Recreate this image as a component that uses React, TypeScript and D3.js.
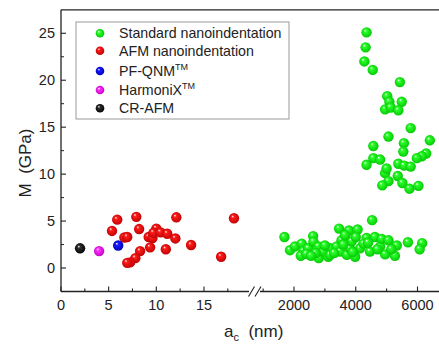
import React, { useEffect, useRef } from 'react';
import * as d3 from 'd3';

// a_c (nm) vs M (GPa)
const standardPts: [number, number][] = [
  [1690, 3.3], [1870, 1.9], [2030, 2.3], [2250, 2.6], [2300, 1.8], [2460, 2.1], [2220, 1.3],
  [2620, 3.4], [2630, 2.8], [2790, 2.3], [2800, 1.05], [2950, 1.75], [3170, 2.1], [3110, 1.2],
  [3170, 1.4], [3380, 2.3], [3460, 4.2], [3490, 1.75], [3540, 2.95], [3710, 1.4], [3780, 4.0],
  [3810, 2.1], [3870, 2.85], [3980, 1.2], [4060, 4.1], [4140, 2.1], [4350, 3.2], [4460, 1.75],
  [4530, 5.1], [4620, 3.3], [4790, 2.3], [4840, 3.1], [4950, 1.45], [5060, 2.95], [5270, 1.3],
  [5330, 2.4], [5690, 2.75], [6150, 2.65], [6070, 2.0], [2400, 1.5], [2700, 1.6], [3000, 2.4],
  [3300, 1.6], [3600, 2.5], [4250, 2.6], [4000, 3.3], [3650, 3.5], [4700, 2.0], [5150, 2.0],
  [4400, 2.7], [3900, 1.7], [2550, 1.3],
  [4350, 25.1], [4320, 23.5], [4280, 22.0], [4550, 21.1], [5430, 19.8], [5020, 18.3], [5090, 17.7],
  [5490, 17.7], [4950, 16.9], [5130, 17.1], [5380, 16.8], [5780, 14.9], [5060, 14.0], [6400, 13.6],
  [5560, 13.3], [4570, 13.0], [5540, 12.4], [6280, 12.2], [6140, 11.9], [5980, 11.7], [4570, 11.7],
  [4790, 11.55], [4350, 11.0], [5380, 11.1], [5570, 10.9], [5780, 10.8], [4950, 10.1], [5000, 10.6],
  [5360, 9.8], [5060, 9.25], [4860, 8.8], [5510, 9.05], [5740, 8.45], [6030, 8.75],
];
const afmPts: [number, number][] = [
  [5.9, 5.15], [7.9, 5.45], [12.1, 5.4], [18.15, 5.3], [5.35, 3.95], [8.2, 4.15], [6.65, 3.25],
  [6.95, 3.3], [9.2, 3.3], [9.6, 3.2], [10.0, 4.2], [9.7, 3.75], [10.45, 3.8], [11.15, 3.65],
  [12.0, 3.15], [13.65, 2.45], [9.35, 2.2], [11.0, 2.0], [8.3, 1.8], [7.8, 1.05], [7.25, 0.6],
  [6.95, 0.55], [16.8, 1.2],
];
const pfqnmPts: [number, number][] = [[6.0, 2.4]];
const harmonixPts: [number, number][] = [[4.0, 1.8]];
const crafmPts: [number, number][] = [[2.0, 2.1]];

const yTicks = [0, 5, 10, 15, 20, 25];
const yMinor = [2.5, 7.5, 12.5, 17.5, 22.5];
const xLeftTicks = [0, 5, 10, 15];
const xLeftMinor = [2.5, 7.5, 12.5, 17.5];
const xRightTicks = [2000, 4000, 6000];
const xRightMinor = [1000, 3000, 5000];

const legendItems = [
  { name: 'Standard nanoindentation', tm: false, id: 'g' },
  { name: 'AFM nanoindentation', tm: false, id: 'r' },
  { name: 'PF-QNM', tm: true, id: 'b' },
  { name: 'HarmoniX', tm: true, id: 'm' },
  { name: 'CR-AFM', tm: false, id: 'k' },
];

const colors: Record<string, [string, string]> = {
  g: ['#2cff2c', '#00c400'],
  r: ['#ff1c1c', '#bb0000'],
  b: ['#1c1cff', '#0000b0'],
  m: ['#ff30ff', '#c000c0'],
  k: ['#303030', '#000000'],
};

const W = 439;
const H = 344;
const FONT = "'Liberation Sans', Arial, sans-serif";

export default function App() {
  const ref = useRef<SVGSVGElement>(null);

  useEffect(() => {
    const svg = d3.select(ref.current);
    svg.selectAll('*').remove();

    const xL = d3.scaleLinear().domain([0, 19.6]).range([61, 247.8]);
    const xR = d3.scaleLinear().domain([2000, 6000]).range([294, 417.5]);
    const y = d3.scaleLinear().domain([-2.5, 27.5]).range([291.5, 9.8]);
    const left = 61, top = y(27.5), bottom = y(-2.5);

    // sphere-like gradients
    const defs = svg.append('defs');
    Object.entries(colors).forEach(([k, [c, d]]) => {
      const gr = defs.append('radialGradient').attr('id', 'sp-' + k)
        .attr('cx', '50%').attr('cy', '50%').attr('r', '55%')
        .attr('fx', '35%').attr('fy', '30%');
      gr.append('stop').attr('offset', '0%').attr('stop-color', '#ffffff');
      gr.append('stop').attr('offset', '25%').attr('stop-color', c);
      gr.append('stop').attr('offset', '100%').attr('stop-color', d);
    });

    const ink = '#222';

    // frame: left, top, bottom with a break
    svg.append('line').attr('x1', left).attr('x2', left).attr('y1', top).attr('y2', bottom)
      .attr('stroke', ink).attr('stroke-width', 1.3);
    svg.append('line').attr('x1', left).attr('x2', W).attr('y1', top).attr('y2', top)
      .attr('stroke', ink).attr('stroke-width', 1.3);
    svg.append('line').attr('x1', left).attr('x2', 249).attr('y1', bottom).attr('y2', bottom)
      .attr('stroke', ink).attr('stroke-width', 1.3);
    svg.append('line').attr('x1', 260).attr('x2', W).attr('y1', bottom).attr('y2', bottom)
      .attr('stroke', ink).attr('stroke-width', 1.3);
    [251.5, 258].forEach(cx => {
      svg.append('line').attr('x1', cx - 3).attr('y1', bottom + 5).attr('x2', cx + 3).attr('y2', bottom - 5)
        .attr('stroke', ink).attr('stroke-width', 1.1);
    });

    // y ticks
    yTicks.forEach(t => {
      svg.append('line').attr('x1', left).attr('x2', left + 5).attr('y1', y(t)).attr('y2', y(t))
        .attr('stroke', ink).attr('stroke-width', 1.1);
      svg.append('text').attr('x', left - 6).attr('y', y(t)).attr('dy', '0.36em')
        .attr('text-anchor', 'end').attr('font-size', 14.5).attr('font-family', FONT)
        .attr('fill', ink).text(t);
    });
    yMinor.forEach(t => {
      svg.append('line').attr('x1', left).attr('x2', left + 3).attr('y1', y(t)).attr('y2', y(t))
        .attr('stroke', ink).attr('stroke-width', 1);
    });

    // x ticks
    const xTick = (px: number, len: number) =>
      svg.append('line').attr('x1', px).attr('x2', px).attr('y1', bottom).attr('y2', bottom - len)
        .attr('stroke', ink).attr('stroke-width', 1.1);
    const xLabel = (px: number, s: string) =>
      svg.append('text').attr('x', px).attr('y', 310).attr('text-anchor', 'middle')
        .attr('font-size', 14.5).attr('font-family', FONT).attr('fill', ink).text(s);
    xLeftTicks.forEach(t => { xTick(xL(t), 5); xLabel(xL(t), String(t)); });
    xLeftMinor.forEach(t => xTick(xL(t), 3));
    xRightTicks.forEach(t => { xTick(xR(t), 5); xLabel(xR(t), String(t)); });
    xRightMinor.forEach(t => xTick(xR(t), 3));

    // axis titles
    const xt = svg.append('text').attr('x', 224).attr('y', 337).attr('font-size', 17)
      .attr('font-family', FONT).attr('fill', ink).style('white-space', 'pre');
    xt.append('tspan').text('a');
    xt.append('tspan').attr('font-size', 11).attr('dy', 4).text('c');
    xt.append('tspan').attr('dy', -4).text('  (nm)');

    svg.append('text').attr('transform', 'translate(31,163) rotate(-90)')
      .attr('text-anchor', 'middle').attr('font-size', 17).attr('font-family', FONT)
      .attr('fill', ink).style('white-space', 'pre').text('M  (GPa)');

    // data
    const dots = (pts: [number, number][], id: string, sx: d3.ScaleLinear<number, number>) => {
      svg.append('g').selectAll('circle').data(pts).enter().append('circle')
        .attr('cx', d => sx(d[0])).attr('cy', d => y(d[1])).attr('r', 5.2)
        .attr('fill', `url(#sp-${id})`);
    };
    dots(standardPts, 'g', xR);
    dots(afmPts, 'r', xL);
    dots(pfqnmPts, 'b', xL);
    dots(harmonixPts, 'm', xL);
    dots(crafmPts, 'k', xL);

    // legend
    svg.append('rect').attr('x', 76).attr('y', 22).attr('width', 213).attr('height', 97)
      .attr('fill', 'white').attr('stroke', '#999').attr('stroke-width', 1);
    const rowY = [33.3, 50.7, 71, 90, 108.3];
    legendItems.forEach((it, i) => {
      svg.append('circle').attr('cx', 100).attr('cy', rowY[i]).attr('r', 4.3)
        .attr('fill', `url(#sp-${it.id})`);
      const t = svg.append('text').attr('x', 119).attr('y', rowY[i]).attr('dy', '0.36em')
        .attr('font-size', 14.2).attr('font-family', FONT).attr('fill', ink);
      t.append('tspan').text(it.name);
      if (it.tm) t.append('tspan').attr('font-size', 9).attr('dy', -6).text('TM');
    });
  }, []);

  return (
    <svg ref={ref} width={W} height={H}
      style={{ position: 'absolute', left: 0, top: 0, background: 'white' }} />
  );
}
